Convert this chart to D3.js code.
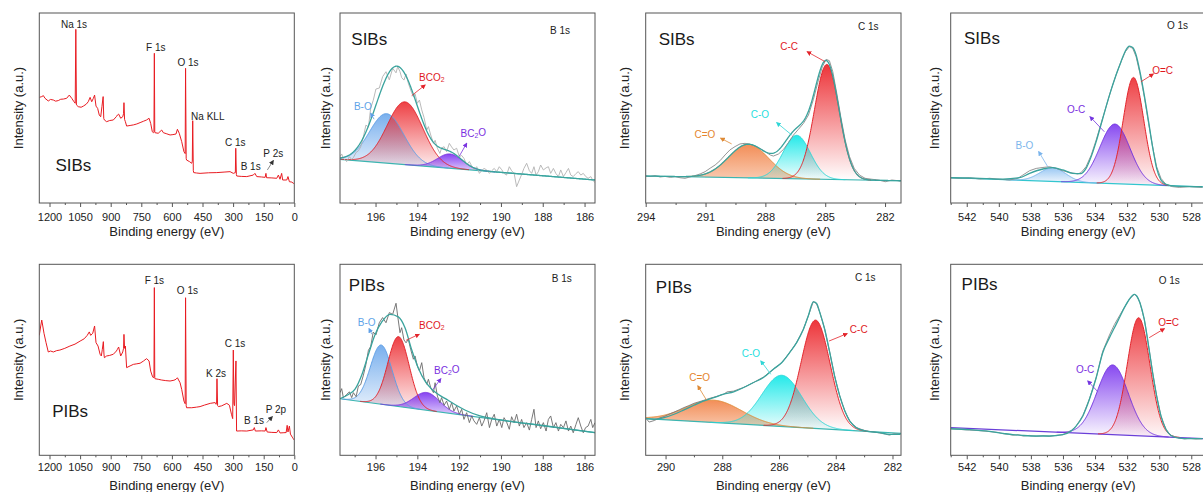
<!DOCTYPE html>
<html>
<head>
<meta charset="utf-8">
<script src="https://cdn.jsdelivr.net/npm/d3@7"></script>
<style>
body { margin: 0; background: #fff; }
svg { display: block; font-family: "Liberation Sans", Arial, sans-serif; }
</style>
</head>
<body>
<svg id="chart" width="1203" height="492"></svg>
<script>
// ---------- survey spectra [binding energy (eV), intensity (a.u.)] ----------
var surveySibs = [[1250,55.6],[1238,56.0],[1230,56.5],[1222,55.1],[1206,53.7],[1195,54.5],[1181,54.2],[1170,53.6],[1157,53.9],[1145,54.6],[1132,54.7],[1116,55.1],[1103,56.8],[1091,55.1],[1080,53.3],[1074,52.5],[1071,91.4],[1068,51.6],[1059,50.7],[1045,50.4],[1034,51.0],[1020,52.0],[1010,53.3],[1001,55.6],[993,53.3],[985,55.1],[979,56.8],[972,51.0],[964,49.8],[956,46.3],[949,45.4],[943,50.7],[937,56.0],[934,44.5],[931,43.7],[920,42.8],[905,43.4],[887,43.7],[872,45.5],[867,46.3],[861,46.8],[851,44.6],[841,45.4],[837,47.0],[835,52.8],[832,44.0],[828,42.8],[822,40.5],[805,40.8],[789,41.1],[772,41.6],[756,42.3],[740,43.0],[724,43.7],[712,44.6],[704,41.9],[696,37.5],[691,37.0],[688,37.5],[686,78.8],[684,37.2],[683,37.0],[667,36.7],[650,38.4],[642,37.0],[625,36.4],[609,35.8],[595,36.0],[580,36.3],[573,38.8],[564,36.7],[552,32.3],[541,27.0],[535,26.0],[533,70.9],[530,23.5],[528,22.6],[514,21.8],[503,20.9],[500,22.0],[498,43.3],[495,17.0],[493,16.0],[480,15.8],[462,15.6],[420,15.9],[380,16.0],[340,16.3],[315,16.5],[299,15.6],[289,16.0],[287,28.8],[284,15.0],[282,14.2],[260,14.0],[233,13.9],[201,14.7],[193,15.6],[184,13.9],[160,13.7],[143,13.5],[139,15.6],[136,13.3],[110,13.2],[86,13.0],[78,14.7],[70,12.5],[62,15.6],[57,12.1],[37,12.1],[31,13.9],[24,11.2],[12,11.0],[5,10.4],[0,10.2]];

var surveyPibs = [[1250,62.8],[1243,67.7],[1238,70.8],[1233,67.7],[1227,63.9],[1217,59.0],[1206,54.1],[1195,54.6],[1181,54.1],[1165,54.8],[1149,55.1],[1125,56.0],[1100,57.2],[1075,58.2],[1050,59.8],[1030,61.0],[1015,62.8],[1005,64.6],[998,62.8],[988,63.9],[979,67.7],[972,59.0],[962,57.2],[952,52.9],[946,52.0],[941,55.5],[936,59.5],[933,53.0],[931,51.1],[920,52.0],[905,52.3],[887,52.9],[872,54.6],[867,55.5],[861,56.7],[851,52.0],[841,54.1],[837,56.0],[835,63.3],[832,56.0],[828,57.2],[822,45.9],[805,46.8],[789,47.6],[772,47.9],[756,48.2],[740,49.3],[724,50.6],[712,49.4],[704,44.1],[696,41.5],[691,40.6],[688,41.0],[686,87.8],[684,40.5],[683,40.1],[667,39.8],[650,39.4],[630,39.1],[609,38.9],[590,39.3],[580,39.8],[573,40.6],[560,38.0],[552,34.5],[541,28.4],[535,27.0],[533,82.5],[530,26.0],[528,24.9],[503,24.9],[480,25.2],[462,25.5],[440,26.3],[412,27.2],[388,27.6],[383,26.7],[381,27.0],[379,40.1],[376,26.0],[372,25.5],[356,25.9],[331,27.2],[318,26.2],[308,21.5],[302,19.2],[299,55.1],[296,27.0],[293,26.0],[286,49.4],[283,12.7],[282,12.7],[260,12.8],[233,12.7],[201,13.3],[196,14.5],[191,12.7],[160,12.8],[143,12.7],[139,14.5],[133,12.2],[110,12.0],[86,11.9],[78,13.3],[70,11.7],[55,11.8],[40,11.9],[35,15.7],[31,12.2],[24,15.3],[19,11.1],[10,9.5],[5,8.7],[0,8.0]];

var surveySibsLabels = [{t:"Na 1s",e:1080,v:94.2},{t:"F 1s",e:679,v:81.7},{t:"O 1s",e:521,v:73.7},{t:"Na KLL",e:424,v:45.4},{t:"C 1s",e:289,v:31.7},{t:"B 1s",e:214,v:19.1},{t:"P 2s",e:103,v:25.8}];
var surveyPibsLabels = [{t:"F 1s",e:686,v:91.3},{t:"O 1s",e:524,v:86.5},{t:"K 2s",e:384,v:42.7},{t:"C 1s",e:291,v:58.6},{t:"B 1s",e:197,v:18.0},{t:"P 2p",e:90,v:24.1}];
var surveySibsArrows = [{from:[132,17.4],to:[103,22.3]}];
var surveyPibsArrows = [{from:[135,17.1],to:[108,20.2]}];

// ---------- B 1s ----------
var b1sEnergy = [197.7,197.62,197.54,197.38,197.25,197.14,197.06,196.93,196.82,196.71,196.58,196.46,196.34,196.23,196.11,195.98,195.82,195.66,195.5,195.34,195.18,195.02,194.94,194.83,194.75,194.64,194.54,194.43,194.32,194.19,194.11,194.0,193.9,193.79,193.68,193.55,193.47,193.36,193.23,193.15,193.04,192.92,192.84,192.72,192.6,192.47,192.36,192.25,192.12,191.99,191.88,191.77,191.64,191.51,191.4,191.29,191.16,191.03,190.92,190.81,190.68,190.55,190.44,190.32,190.2,190.08,189.96,189.85,189.73,189.6,189.49,189.37,189.25,189.12,189.01,188.9,188.77,188.64,188.53,188.42,188.32,188.21,188.1,187.97,187.84,187.73,187.62,187.49,187.37,187.25,187.14,187.01,186.89,186.77,186.66,186.54,186.41,186.3,186.18,186.06,185.95,185.83,185.7,185.61,185.5];
var sibsB1sRaw = [24.4,25.8,23.5,21.8,24.4,22.9,23.9,26.6,27.5,29.5,35.0,41.0,40.0,50.0,54.0,60.0,60.5,66.5,69.1,64.8,70.9,68.5,71.8,69.1,66.0,64.7,67.9,63.0,59.5,55.9,57.5,52.5,54.2,49.0,45.0,38.4,40.2,35.8,31.4,33.0,28.8,26.1,29.0,29.6,27.0,31.4,29.5,27.9,28.8,24.4,25.0,23.5,20.0,21.8,19.5,17.4,19.1,15.6,17.0,18.2,17.4,15.6,17.0,18.2,16.5,19.1,17.5,15.6,14.7,19.1,17.0,15.6,8.6,12.1,15.0,18.2,20.9,17.0,15.6,19.1,14.7,16.5,20.0,17.4,18.5,19.1,15.6,18.2,15.5,13.9,17.4,13.9,16.0,18.2,14.7,13.9,15.5,16.5,14.7,15.6,14.0,13.0,13.9,12.1,10.7];
var pibsB1sRaw = [32.8,34.9,30.2,31.9,33.2,30.2,32.8,30.7,36.3,37.0,42.0,47.5,55.0,57.0,64.5,63.0,69.4,72.1,69.4,74.7,73.8,79.6,72.9,64.2,66.8,60.4,58.9,60.7,55.5,50.3,52.0,46.8,44.2,48.5,40.6,37.2,39.8,35.4,32.8,38.0,31.0,27.5,30.2,26.2,28.4,24.1,27.5,23.2,25.8,21.5,24.1,18.8,22.3,17.1,20.6,18.0,16.2,19.7,15.3,18.0,22.3,14.5,18.8,21.5,15.3,18.8,14.5,19.7,17.4,13.6,20.2,17.1,21.5,15.3,18.8,14.5,17.1,13.2,18.8,24.1,14.5,18.0,13.9,17.1,12.7,18.8,20.6,14.5,17.1,12.7,16.2,14.5,18.0,12.7,15.3,11.8,16.2,19.7,15.3,11.8,14.5,15.3,18.8,14.5,17.1];
var pibsB1sFit = [[197.7,29.6],[197.3,31.8],[196.98,34.6],[196.66,42.0],[196.35,52.5],[196.03,63.0],[195.7,69.8],[195.31,73.8],[194.91,72.5],[194.59,66.8],[194.27,55.3],[193.95,45.6],[193.63,38.8],[193.31,34.6],[192.99,31.8],[192.68,29.8],[192.2,26.6],[191.7,23.6],[191.0,20.6],[190.0,18.5],[188.0,15.6],[185.5,11.9]];
var b1sNames = ["B-O", "BCO2", "BC2O"];
var sibsB1sCenter = [195.47, 194.59, 192.44];
var sibsB1sHeight = [26.0, 33.0, 7.5];
var sibsB1sFwhm = [1.93, 2.0, 1.41];
var sibsB1sBackground = [[197.7, 23.0], [185.5, 12.1]];
var pibsB1sCenter = [195.73, 194.9, 193.55];
var pibsB1sHeight = [31.0, 36.6, 9.3];
var pibsB1sFwhm = [1.22, 1.2, 1.45];
var pibsB1sBackground = [[197.7, 29.6], [185.5, 11.9]];
var sibsB1sLabels = [{t:"B-O",e:196.61,v:50.7,from:[196.07,44.1],to:[196.23,47.2]},{t:"BCO2",e:193.31,v:66.2,from:[194.27,56.5],to:[193.63,62.1]},{t:"BC2O",e:191.32,v:36.7,from:[191.99,24.7],to:[191.64,31.4]}];
var pibsB1sLabels = [{t:"B-O",e:196.42,v:69.4,from:[196.18,63.4],to:[196.31,66.3]},{t:"BCO2",e:193.31,v:68.1,from:[194.54,60.2],to:[193.91,63.4]},{t:"BC2O",e:192.59,v:44.7,from:[193.24,34.6],to:[192.88,40.1]}];

// ---------- C 1s ----------
var c1sNames = ["C=O", "C-O", "C-C"];
var sibsC1sCenter = [288.85, 286.43, 284.92];
var sibsC1sHeight = [17.7, 22.9, 60.5];
var sibsC1sFwhm = [2.35, 1.6, 1.45];
var sibsC1sBackground = [[294, 14.2], [281.2, 11.7]];
var sibsC1sRaw = [[294.0,14.2],[293.78,13.9],[293.53,14.4],[293.28,13.7],[293.03,14.0],[292.78,13.5],[292.53,13.9],[292.28,13.3],[292.03,13.0],[291.78,13.7],[291.53,14.4],[291.27,15.3],[291.02,16.5],[290.77,18.3],[290.52,20.0],[290.27,22.3],[290.02,25.3],[289.77,28.0],[289.52,29.7],[289.27,31.1],[289.02,31.4],[288.77,30.9],[288.52,30.0],[288.26,28.6],[288.01,27.0],[287.76,25.3],[287.6,24.7],[287.34,25.8],[287.09,28.2],[286.84,31.8],[286.59,35.8],[286.34,38.8],[286.09,41.9],[285.84,46.3],[285.59,54.6],[285.34,64.7],[285.14,71.8],[284.95,75.6],[284.79,74.9],[284.62,69.1],[284.42,57.7],[284.22,45.4],[284.0,33.2],[283.78,24.4],[283.55,18.3],[283.28,14.7],[283.0,13.0],[282.66,12.5],[282.33,12.1],[281.99,11.2],[281.66,12.1],[281.24,11.6]];
var pibsC1sCenter = [288.3, 285.9, 284.71];
var pibsC1sHeight = [11.7, 26.8, 56.7];
var pibsC1sFwhm = [2.3, 1.65, 1.2];
var pibsC1sBackground = [[290.7, 19.2], [281.7, 11.5]];
var pibsC1sFit = [[290.67,19.2],[290.4,18.8],[290.05,19.7],[289.7,21.5],[289.35,23.8],[289.0,26.2],[288.65,28.5],[288.3,30.2],[287.95,32.0],[287.6,33.2],[287.25,35.5],[286.9,38.1],[286.55,40.7],[286.2,45.1],[285.9,48.6],[285.61,54.1],[285.38,59.0],[285.14,66.0],[284.97,72.9],[284.79,80.3],[284.68,79.6],[284.56,74.7],[284.39,66.0],[284.21,53.7],[284.04,41.5],[283.86,31.1],[283.68,23.2],[283.51,18.0],[283.28,14.5],[282.93,12.7],[282.46,11.9],[282.11,11.0],[281.72,11.0]];
var pibsC1sRaw = [[290.67,19.0],[290.58,17.4],[290.4,18.2],[290.22,19.5],[290.05,20.3],[289.88,21.5],[289.7,22.6],[289.52,23.8],[289.35,25.0],[289.18,26.0],[289.0,27.2],[288.82,28.0],[288.65,28.8],[288.47,29.7],[288.3,30.4],[288.12,31.2],[287.95,32.0],[287.83,33.2],[287.6,33.6],[287.42,34.6],[287.25,35.5],[286.9,38.1],[286.55,40.9],[286.2,45.0],[285.9,48.6],[285.61,54.1],[285.38,59.0],[285.14,66.0],[284.97,72.9],[284.79,80.5],[284.68,79.4],[284.56,74.7],[284.39,66.0],[284.21,53.7],[284.04,41.5],[283.86,31.1],[283.68,23.2],[283.51,18.0],[283.28,14.5],[282.93,12.7],[282.7,12.3],[282.46,11.7],[282.25,11.1],[282.11,10.6],[281.95,11.2],[281.72,11.0]];
var sibsC1sLabels = [{t:"C-C",e:286.81,v:82.3,from:[285.01,74.4],to:[285.9,79.6]},{t:"C-O",e:288.27,v:46.7,from:[286.68,35.8],to:[287.43,42.3]},{t:"C=O",e:291.03,v:36.2,from:[289.69,31.1],to:[290.24,34.1]}];
var pibsC1sLabels = [{t:"C-C",e:283.19,v:66.0,from:[284.24,59.8],to:[283.6,63.7]},{t:"C-O",e:286.99,v:53.4,from:[286.29,42.4],to:[286.64,49.4]},{t:"C=O",e:288.8,v:40.6,from:[288.56,29.0],to:[288.86,36.3]}];

// ---------- O 1s ----------
var sibsO1sNames = ["B-O", "O-C", "O=C"];
var sibsO1sCenter = [536.63, 532.76, 531.6];
var sibsO1sHeight = [7.2, 31.4, 56.3];
var sibsO1sFwhm = [1.9, 2.2, 1.5];
var sibsO1sBackground = [[543, 13.3], [527.1, 8.4]];
var sibsO1sRaw = [[543,13.3],[542.44,13.0],[541.82,13.3],[541.2,12.6],[540.57,13.0],[539.95,12.5],[539.33,12.1],[538.81,13.0],[538.5,14.7],[538.08,17.0],[537.67,18.2],[537.25,18.7],[536.84,19.1],[536.42,18.2],[536.01,17.0],[535.59,16.0],[535.28,15.6],[535.07,15.3],[534.87,16.0],[534.56,19.1],[534.24,25.2],[533.93,33.1],[533.62,41.9],[533.31,50.7],[533.0,59.5],[532.69,67.4],[532.38,74.4],[532.11,79.6],[531.86,82.3],[531.65,81.4],[531.44,77.0],[531.2,68.2],[530.93,55.9],[530.66,41.9],[530.41,29.5],[530.16,19.1],[529.89,13.0],[529.58,9.8],[529.16,8.6],[528.75,8.2],[528.12,8.6],[527.3,8.2]];
var sibsO1sFit = [[543,13.3],[541.5,13.1],[539.74,12.6],[538.71,13.3],[538.08,15.6],[537.25,17.9],[536.63,18.6],[536.01,17.4],[535.39,15.6],[534.87,15.5],[534.56,18.2],[534.24,24.4],[533.93,32.3],[533.52,44.5],[533.1,56.8],[532.69,67.4],[532.38,74.4],[532.11,80.0],[531.86,82.6],[531.65,81.8],[531.44,77.9],[531.2,69.1],[530.93,56.8],[530.66,42.8],[530.41,29.5],[530.16,18.2],[529.89,12.1],[529.58,9.8],[528.95,8.9],[527.3,8.6]];
var pibsO1sNames = ["O-C", "O=C"];
var pibsO1sCenter = [532.9, 531.28];
var pibsO1sHeight = [36.5, 61.8];
var pibsO1sFwhm = [2.28, 1.66];
var pibsO1sBackground = [[543, 14.5], [527.1, 8.7]];
var pibsO1sFit = [[543,13.9],[541.82,13.4],[540.57,12.5],[539.74,11.5],[539.12,10.8],[538.5,10.4],[537.67,10.1],[536.84,10.1],[536.01,10.8],[535.49,12.7],[535.18,15.3],[534.76,20.6],[534.35,29.3],[533.93,40.6],[533.52,53.7],[533.1,61.6],[532.79,66.8],[532.48,72.0],[532.17,77.3],[531.86,81.7],[531.55,84.3],[531.4,83.4],[531.2,79.9],[530.93,71.2],[530.66,57.2],[530.41,43.3],[530.16,31.1],[529.89,20.6],[529.58,13.6],[529.27,10.4],[528.75,9.0],[528.12,8.7],[527.3,8.7]];
var pibsO1sRaw = [[543,13.9],[542.5,13.6],[541.82,13.2],[541.2,12.9],[540.57,12.4],[540,11.9],[539.74,11.3],[539.4,11.0],[539.12,10.5],[538.8,10.8],[538.5,10.1],[538.1,10.4],[537.67,9.9],[537.25,10.3],[536.84,9.9],[536.4,10.5],[536.01,10.8],[535.49,12.9],[535.18,15.3],[534.76,20.8],[534.35,29.5],[533.93,40.6],[533.52,54.5],[533.1,63.0],[532.79,68.5],[532.48,73.0],[532.17,77.5],[531.86,81.7],[531.55,84.3],[531.4,83.4],[531.2,79.9],[530.93,71.2],[530.66,57.2],[530.41,43.3],[530.16,31.1],[529.89,20.6],[529.58,13.6],[529.27,10.4],[528.75,9.0],[528.4,8.6],[528.12,8.9],[527.7,8.5],[527.3,8.7]];
var sibsO1sLabels = [{t:"O=C",e:529.79,v:70.0,from:[531.14,63.8],to:[530.37,67.9]},{t:"O-C",e:535.18,v:49.3,from:[533.42,37.5],to:[534.31,45.4]},{t:"B-O",e:538.4,v:30.2,from:[536.95,19.1],to:[537.51,27.0]}];
var pibsO1sLabels = [{t:"O=C",e:529.41,v:69.4,from:[530.62,61.6],to:[529.68,66.3]},{t:"O-C",e:534.62,v:44.7,from:[533.83,33.3],to:[534.45,38.9]}];

// ---------- ticks ----------
var surveyTicks = [1200, 1050, 900, 750, 600, 450, 300, 150, 0];
var b1sTicks = [196, 194, 192, 190, 188, 186];
var sibsC1sTicks = [294, 291, 288, 285, 282];
var pibsC1sTicks = [290, 288, 286, 284, 282];
var o1sTicks = [542, 540, 538, 536, 534, 532, 530, 528];

// ---------- styles ----------
var compStyle = {
	"B-O":  {line: "#5f9fe6", fill: "#3f8de6", text: "#5ea3e8", top: 0.7, bottom: 0.12},
	"BCO2": {line: "#e3242b", fill: "#ec2a2f", text: "#e0191e", top: 0.9, bottom: 0.05},
	"BC2O": {line: "#7b35e0", fill: "#7a2ff0", text: "#7a2fe0", top: 0.9, bottom: 0.2},
	"C=O":  {line: "#de8a36", fill: "#f07a3a", text: "#e5852d", top: 0.85, bottom: 0.4},
	"C-O":  {line: "#2fd6d6", fill: "#19e8e8", text: "#1fdede", top: 0.95, bottom: 0.05},
	"C-C":  {line: "#e3242b", fill: "#ec2a2f", text: "#e0191e", top: 0.95, bottom: 0.0},
	"O=C":  {line: "#e3242b", fill: "#ec2a2f", text: "#e0191e", top: 0.9, bottom: 0.03},
	"O-C":  {line: "#7436e0", fill: "#7a35ee", text: "#7a2fe0", top: 0.9, bottom: 0.03}
};
var oxideBlue = {line: "#7ab4ec", fill: "#6fb0ee", text: "#7db6ec", top: 0.7, bottom: 0.1};

var columns = [
	{left: 39.3, right: 294.3, titleDx: -21},
	{left: 340, right: 595, titleDx: -15},
	{left: 645.7, right: 901, titleDx: -21},
	{left: 950.7, right: 1205.7, titleDx: -16}
];
var rows = [
	{top: 13, bottom: 203, pad: 6, titleY: 235.5},
	{top: 264.3, bottom: 455.3, pad: 4, titleY: 490}
];

var panels = [
	{id: "p0", col: 0, row: 0, kind: "survey", domain: [1250, 0], ticks: surveyTicks, minor: 75, line: surveySibs, labels: surveySibsLabels, arrows: surveySibsArrows, tag: "SIBs", tagAt: [1083, 20]},
	{id: "p1", col: 1, row: 0, domain: [197.7, 185.5], ticks: b1sTicks, minor: 1, names: b1sNames, center: sibsB1sCenter, height: sibsB1sHeight, fwhm: sibsB1sFwhm, bg: sibsB1sBackground, raw: b1sEnergy.map(function (e, i) { return [e, sibsB1sRaw[i]]; }), rawColor: "#b2b2b2", bgColor: "#3cb5b1", labels: sibsB1sLabels, title: "B 1s", titleAt: [187.17, 91], tag: "SIBs", tagAt: [196.3, 86.2]},
	{id: "p2", col: 2, row: 0, domain: [294, 281.2], ticks: sibsC1sTicks, minor: 1.5, names: c1sNames, center: sibsC1sCenter, height: sibsC1sHeight, fwhm: sibsC1sFwhm, bg: sibsC1sBackground, raw: sibsC1sRaw, rawColor: "#8a8a8a", bgColor: "#3cb5b1", labels: sibsC1sLabels, title: "C 1s", titleAt: [282.84, 92.8], tag: "SIBs", tagAt: [292.45, 85.8]},
	{id: "p3", col: 3, row: 0, domain: [543, 527.1], ticks: o1sTicks, minor: 1, names: sibsO1sNames, center: sibsO1sCenter, height: sibsO1sHeight, fwhm: sibsO1sFwhm, bg: sibsO1sBackground, raw: sibsO1sRaw, fit: sibsO1sFit, rawColor: "#8a8a8a", bgColor: "#33c6cf", labels: sibsO1sLabels, title: "O 1s", titleAt: [528.86, 93.2], tag: "SIBs", tagAt: [541.05, 86.7]},
	{id: "p4", col: 0, row: 1, kind: "survey", domain: [1250, 0], ticks: surveyTicks, minor: 75, line: surveyPibs, labels: surveyPibsLabels, arrows: surveyPibsArrows, tag: "PIBs", tagAt: [1099, 22.7]},
	{id: "p5", col: 1, row: 1, domain: [197.7, 185.5], ticks: b1sTicks, minor: 1, names: b1sNames, center: pibsB1sCenter, height: pibsB1sHeight, fwhm: pibsB1sFwhm, bg: pibsB1sBackground, raw: b1sEnergy.map(function (e, i) { return [e, pibsB1sRaw[i]]; }), fit: pibsB1sFit, rawColor: "#6a6a6a", bgColor: "#3cb5b1", labels: pibsB1sLabels, title: "B 1s", titleAt: [187.09, 92.5], tag: "PIBs", tagAt: [196.42, 89.0]},
	{id: "p6", col: 2, row: 1, domain: [290.7, 281.7], ticks: pibsC1sTicks, minor: 1, names: c1sNames, center: pibsC1sCenter, height: pibsC1sHeight, fwhm: pibsC1sFwhm, bg: pibsC1sBackground, raw: pibsC1sRaw, fit: pibsC1sFit, rawColor: "#7a7a7a", bgColor: "#3cb5b1", labels: pibsC1sLabels, title: "C 1s", titleAt: [282.96, 93], tag: "PIBs", tagAt: [289.71, 88.1]},
	{id: "p7", col: 3, row: 1, domain: [543, 527.1], ticks: o1sTicks, minor: 1, names: pibsO1sNames, center: pibsO1sCenter, height: pibsO1sHeight, fwhm: pibsO1sFwhm, bg: pibsO1sBackground, raw: pibsO1sRaw, fit: pibsO1sFit, rawColor: "#8a8a8a", bgColor: "#6a3fd8", labels: pibsO1sLabels, title: "O 1s", titleAt: [529.37, 91.6], tag: "PIBs", tagAt: [541.2, 89.4]}
];

var svg = d3.select("#chart");
var defs = svg.append("defs");
var markerCount = 0;

function arrowMarker (color) {
	var id = "arr" + (markerCount++);
	defs.append("marker")
		.attr("id", id)
		.attr("viewBox", "0 0 10 10")
		.attr("refX", 8).attr("refY", 5)
		.attr("markerWidth", 5).attr("markerHeight", 5)
		.attr("markerUnits", "userSpaceOnUse")
		.attr("orient", "auto")
		.append("path").attr("d", "M0,0 L10,5 L0,10 z").attr("fill", color);
	return "url(#" + id + ")";
}

function writeLabel (sel, text) {
	var m = text.match(/^([A-Z]+)(\d)([A-Z]*)$/);
	if (m) {
		sel.append("tspan").text(m[1]);
		sel.append("tspan").attr("font-size", "0.68em").attr("dy", "0.3em").text(m[2]);
		if (m[3]) sel.append("tspan").attr("dy", "-0.3em").text(m[3]);
	} else {
		sel.text(text);
	}
}

function styleOf (p, name) {
	if (name === "B-O" && p.id === "p3") return oxideBlue;
	return compStyle[name];
}

panels.forEach(function (p) {
	var c = columns[p.col], r = rows[p.row];
	var x = d3.scaleLinear().domain(p.domain).range([c.left, c.right]);
	var y = d3.scaleLinear().domain([0, 100]).range([r.bottom, r.top]);
	var g = svg.append("g");

	defs.append("clipPath").attr("id", "clip" + p.id)
		.append("rect").attr("x", c.left).attr("y", r.top)
		.attr("width", c.right - c.left).attr("height", r.bottom - r.top);
	var plot = g.append("g").attr("clip-path", "url(#clip" + p.id + ")");

	var line = d3.line().x(function (d) { return x(d[0]); }).y(function (d) { return y(d[1]); });

	if (p.kind === "survey") {
		plot.append("path").datum(p.line).attr("d", line)
			.attr("fill", "none").attr("stroke", "#e81c22").attr("stroke-width", 1);
		p.labels.forEach(function (l) {
			g.append("text").attr("x", x(l.e)).attr("y", y(l.v))
				.attr("text-anchor", "middle").attr("dominant-baseline", "central")
				.attr("font-size", 10).attr("fill", "#222").text(l.t);
		});
		var mk = arrowMarker("#333");
		p.arrows.forEach(function (a) {
			g.append("line").attr("x1", x(a.from[0])).attr("y1", y(a.from[1]))
				.attr("x2", x(a.to[0])).attr("y2", y(a.to[1]))
				.attr("stroke", "#555").attr("stroke-width", 0.7).attr("marker-end", mk);
		});
	} else {
		var bgAt = d3.scaleLinear().domain([p.bg[0][0], p.bg[1][0]]).range([p.bg[0][1], p.bg[1][1]]);
		var step = (p.domain[0] - p.domain[1]) / 600;
		var comps = p.names.map(function (name, i) {
			var sigma = p.fwhm[i] / 2.3548;
			var lo = Math.max(p.domain[1], p.center[i] - 3.6 * sigma);
			var hi = Math.min(p.domain[0], p.center[i] + 3.6 * sigma);
			var pts = d3.range(hi, lo - step / 2, -step).map(function (e) {
				var gauss = p.height[i] * Math.exp(-((e - p.center[i]) * (e - p.center[i])) / (2 * sigma * sigma));
				return {e: e, base: bgAt(e), top: bgAt(e) + gauss};
			});
			return {name: name, i: i, sigma: sigma, pts: pts};
		});

		// component fills with vertical fading gradient
		comps.forEach(function (cp) {
			var st = styleOf(p, cp.name);
			var gid = "grad" + p.id + cp.i;
			var grad = defs.append("linearGradient").attr("id", gid)
				.attr("x1", 0).attr("y1", 0).attr("x2", 0).attr("y2", 1);
			grad.append("stop").attr("offset", "0%").attr("stop-color", st.fill).attr("stop-opacity", st.top);
			grad.append("stop").attr("offset", "100%").attr("stop-color", st.fill).attr("stop-opacity", st.bottom);
			var area = d3.area().x(function (d) { return x(d.e); })
				.y0(function (d) { return y(d.base); }).y1(function (d) { return y(d.top); });
			plot.append("path").datum(cp.pts).attr("d", area).attr("fill", "url(#" + gid + ")");
		});

		// background line
		plot.append("path").datum(p.bg).attr("d", line)
			.attr("fill", "none").attr("stroke", p.bgColor).attr("stroke-width", 1.2);

		// component outlines
		comps.forEach(function (cp) {
			var st = styleOf(p, cp.name);
			plot.append("path").datum(cp.pts)
				.attr("d", d3.line().x(function (d) { return x(d.e); }).y(function (d) { return y(d.top); }))
				.attr("fill", "none").attr("stroke", st.line).attr("stroke-width", 1);
		});

		// measured spectrum
		plot.append("path").datum(p.raw).attr("d", line)
			.attr("fill", "none").attr("stroke", p.rawColor).attr("stroke-width", 0.9);

		// envelope of the fit
		var fit = p.fit;
		var fitLine = line;
		if (!fit) {
			fit = d3.range(p.domain[0], p.domain[1] - step / 2, -step).map(function (e) {
				var s = bgAt(e);
				comps.forEach(function (cp) {
					s += p.height[cp.i] * Math.exp(-((e - p.center[cp.i]) * (e - p.center[cp.i])) / (2 * cp.sigma * cp.sigma));
				});
				return [e, s];
			});
		} else {
			fitLine = d3.line().curve(d3.curveMonotoneX).x(function (d) { return x(d[0]); }).y(function (d) { return y(d[1]); });
		}
		plot.append("path").datum(fit).attr("d", fitLine)
			.attr("fill", "none").attr("stroke", "#3aa39d").attr("stroke-width", 1.3);

		// component labels and arrows
		p.labels.forEach(function (l) {
			var st = styleOf(p, l.t);
			var t = g.append("text").attr("x", x(l.e)).attr("y", y(l.v))
				.attr("text-anchor", "middle").attr("dominant-baseline", "central")
				.attr("font-size", 10).attr("fill", st.text);
			writeLabel(t, l.t);
			g.append("line").attr("x1", x(l.from[0])).attr("y1", y(l.from[1]))
				.attr("x2", x(l.to[0])).attr("y2", y(l.to[1]))
				.attr("stroke", st.line).attr("stroke-width", 0.8)
				.attr("marker-end", arrowMarker(st.line));
		});

		g.append("text").attr("x", x(p.titleAt[0])).attr("y", y(p.titleAt[1]))
			.attr("text-anchor", "middle").attr("dominant-baseline", "central")
			.attr("font-size", 10).attr("fill", "#222").text(p.title);
	}

	// sample tag
	g.append("text").attr("x", x(p.tagAt[0])).attr("y", y(p.tagAt[1]))
		.attr("text-anchor", "middle").attr("dominant-baseline", "central")
		.attr("font-size", 17).attr("fill", "#1a1a1a").text(p.tag);

	// frame
	g.append("rect").attr("x", c.left).attr("y", r.top)
		.attr("width", c.right - c.left).attr("height", r.bottom - r.top)
		.attr("fill", "none").attr("stroke", "#555").attr("stroke-width", 1);

	// bottom axis: major and minor ticks
	var minorTicks = [];
	var m0 = Math.ceil(p.domain[1] / p.minor) * p.minor;
	for (var v = m0; v <= p.domain[0] + 1e-9; v += p.minor) {
		if (p.ticks.indexOf(Math.round(v * 100) / 100) < 0) minorTicks.push(v);
	}
	var minorAxis = g.append("g").attr("transform", "translate(0," + r.bottom + ")")
		.call(d3.axisBottom(x).tickValues(minorTicks).tickSize(2).tickFormat(""));
	minorAxis.select(".domain").remove();
	minorAxis.selectAll("line").attr("stroke", "#555");

	var axis = g.append("g").attr("transform", "translate(0," + r.bottom + ")")
		.call(d3.axisBottom(x).tickValues(p.ticks).tickSize(4).tickPadding(r.pad).tickFormat(d3.format("d")));
	axis.select(".domain").remove();
	axis.selectAll("line").attr("stroke", "#555");
	axis.selectAll("text").attr("font-size", 11).attr("fill", "#222")
		.attr("font-family", "'Liberation Sans', Arial, sans-serif");

	// axis titles
	g.append("text").attr("x", (c.left + c.right) / 2).attr("y", r.titleY)
		.attr("text-anchor", "middle").attr("font-size", 13).attr("fill", "#222")
		.text("Binding energy (eV)");
	g.append("text")
		.attr("transform", "translate(" + (c.left + c.titleDx) + "," + ((r.top + r.bottom) / 2) + ") rotate(-90)")
		.attr("text-anchor", "middle").attr("dominant-baseline", "central")
		.attr("font-size", 13).attr("fill", "#222")
		.text("Intensity (a.u.)");
});
</script>
</body>
</html>
